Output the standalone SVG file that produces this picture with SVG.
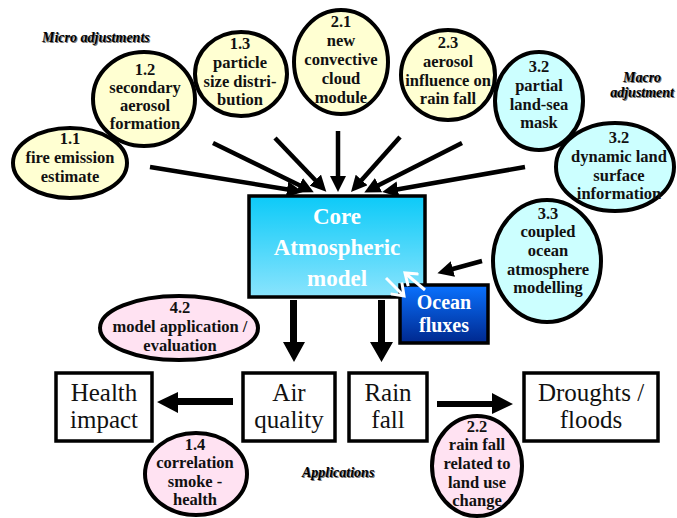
<svg xmlns="http://www.w3.org/2000/svg" width="677" height="518" viewBox="0 0 677 518">
<defs>
<linearGradient id="gCore" x1="0" y1="0" x2="0" y2="1">
<stop offset="0" stop-color="#0ccaf8"/>
<stop offset="1" stop-color="#8ae4fd"/>
</linearGradient>
<linearGradient id="gOcean" x1="0" y1="0" x2="0" y2="1">
<stop offset="0" stop-color="#0a72ff"/>
<stop offset="1" stop-color="#00288e"/>
</linearGradient>
<marker id="ah" markerUnits="userSpaceOnUse" markerWidth="18" markerHeight="16" refX="4" refY="8" orient="auto" viewBox="0 0 18 16">
<path d="M0,0 L16,8 L0,16 z" fill="#000"/>
</marker>
<marker id="wh" markerUnits="userSpaceOnUse" markerWidth="18" markerHeight="18" refX="14" refY="9" orient="auto" viewBox="0 0 18 18">
<path d="M3,1 L14,9 L3,17" fill="none" stroke="#fff" stroke-width="3"/>
</marker>
<style>
.yel{fill:#ffffd2;stroke:#000;stroke-width:4}
.cyn{fill:#ccffff;stroke:#000;stroke-width:4}
.pnk{fill:#ffe2f2;stroke:#000;stroke-width:4}
.et{font-family:"Liberation Serif",serif;font-weight:bold;font-size:16.5px;fill:#111;text-anchor:middle}
.box{fill:#fff;stroke:#000;stroke-width:3.5}
.bt{font-family:"Liberation Serif",serif;font-size:25px;fill:#111;text-anchor:middle}
.wt{font-family:"Liberation Serif",serif;font-weight:bold;fill:#fff;text-anchor:middle}
.lbl{font-family:"Liberation Serif",serif;font-weight:bold;font-style:italic;font-size:14px;fill:#000}
.shd{font-family:"Liberation Serif",serif;font-weight:bold;font-style:italic;font-size:14px;fill:#777}
.arr{stroke:#000;stroke-width:4.5;fill:none;marker-end:url(#ah)}
.warr{stroke:#fff;stroke-width:3;fill:none;marker-end:url(#wh)}
</style>
</defs>

<g id="labels">
<text class="shd" x="43" y="43">Micro adjustments</text>
<text class="lbl" x="42" y="42">Micro adjustments</text>
<text class="shd" x="624" y="83">Macro</text>
<text class="lbl" x="623" y="82">Macro</text>
<text class="shd" x="675" y="98" text-anchor="end">adjustment</text>
<text class="lbl" x="674" y="97" text-anchor="end">adjustment</text>
<text class="shd" x="303" y="478">Applications</text>
<text class="lbl" x="302" y="477">Applications</text>
</g>

<g id="n11"><ellipse class="yel" cx="70" cy="163" rx="57" ry="35"/>
<text class="et"><tspan x="70" y="144">1.1</tspan><tspan x="70" y="163">fire emission</tspan><tspan x="70" y="182">estimate</tspan></text></g>
<g id="n12"><ellipse class="yel" cx="144" cy="99" rx="51" ry="47"/>
<text class="et"><tspan x="145" y="75">1.2</tspan><tspan x="145" y="93">secondary</tspan><tspan x="145" y="111">aerosol</tspan><tspan x="145" y="129">formation</tspan></text></g>
<g id="n13"><ellipse class="yel" cx="241" cy="74" rx="46" ry="42"/>
<text class="et"><tspan x="240" y="49">1.3</tspan><tspan x="240" y="68">particle</tspan><tspan x="240" y="87">size distri-</tspan><tspan x="240" y="105">bution</tspan></text></g>
<g id="n21"><ellipse class="yel" cx="341" cy="62" rx="47" ry="52"/>
<text class="et"><tspan x="341" y="27">2.1</tspan><tspan x="341" y="46">new</tspan><tspan x="341" y="65">convective</tspan><tspan x="341" y="84">cloud</tspan><tspan x="341" y="103">module</tspan></text></g>
<g id="n23"><ellipse class="yel" cx="448" cy="75" rx="47" ry="45"/>
<text class="et"><tspan x="448" y="48">2.3</tspan><tspan x="448" y="67">aerosol</tspan><tspan x="448" y="86">influence on</tspan><tspan x="448" y="104">rain fall</tspan></text></g>
<g id="n32a"><ellipse class="cyn" cx="539" cy="101" rx="44" ry="49"/>
<text class="et"><tspan x="539" y="72">3.2</tspan><tspan x="539" y="91">partial</tspan><tspan x="539" y="110">land-sea</tspan><tspan x="539" y="128">mask</tspan></text></g>
<g id="n32b"><ellipse class="cyn" cx="615" cy="167" rx="59" ry="44"/>
<text class="et"><tspan x="619" y="143">3.2</tspan><tspan x="619" y="162">dynamic land</tspan><tspan x="619" y="181">surface</tspan><tspan x="619" y="199">information</tspan></text></g>
<g id="n33"><ellipse class="cyn" cx="547" cy="261" rx="54" ry="61"/>
<text class="et"><tspan x="548" y="219">3.3</tspan><tspan x="548" y="237">coupled</tspan><tspan x="548" y="256">ocean</tspan><tspan x="548" y="275">atmosphere</tspan><tspan x="548" y="293">modelling</tspan></text></g>
<g id="n42"><ellipse class="pnk" cx="179" cy="328" rx="79" ry="32"/>
<text class="et"><tspan x="180" y="313">4.2</tspan><tspan x="180" y="332">model application /</tspan><tspan x="180" y="351">evaluation</tspan></text></g>
<g id="n14"><ellipse class="pnk" cx="196" cy="474" rx="51" ry="41"/>
<text class="et"><tspan x="195" y="450">1.4</tspan><tspan x="195" y="468">correlation</tspan><tspan x="195" y="487">smoke -</tspan><tspan x="195" y="505">health</tspan></text></g>
<g id="n22"><ellipse class="pnk" cx="477" cy="466" rx="45" ry="50"/>
<text class="et"><tspan x="477" y="432">2.2</tspan><tspan x="477" y="450">rain fall</tspan><tspan x="477" y="469">related to</tspan><tspan x="477" y="488">land use</tspan><tspan x="477" y="506">change</tspan></text></g>

<g id="core"><rect x="249" y="196" width="176" height="101" fill="url(#gCore)" stroke="#000" stroke-width="3.5"/>
<text class="wt" font-size="23"><tspan x="337" y="224">Core</tspan><tspan x="337" y="255">Atmospheric</tspan><tspan x="337" y="286">model</tspan></text></g>
<g id="ocean"><rect x="400" y="285" width="88" height="58" fill="url(#gOcean)" stroke="#000" stroke-width="3.5"/>
<text class="wt" font-size="20"><tspan x="444" y="309">Ocean</tspan><tspan x="444" y="332">fluxes</tspan></text></g>

<g id="health"><rect class="box" x="56" y="373" width="96" height="68"/>
<text class="bt"><tspan x="104" y="401">Health</tspan><tspan x="104" y="428">impact</tspan></text></g>
<g id="air"><rect class="box" x="243" y="373" width="92" height="68"/>
<text class="bt"><tspan x="289" y="401">Air</tspan><tspan x="289" y="428">quality</tspan></text></g>
<g id="rain"><rect class="box" x="349" y="373" width="78" height="68"/>
<text class="bt"><tspan x="388" y="401">Rain</tspan><tspan x="388" y="428">fall</tspan></text></g>
<g id="droughts"><rect class="box" x="524" y="373" width="134" height="68"/>
<text class="bt"><tspan x="591" y="401">Droughts /</tspan><tspan x="591" y="428">floods</tspan></text></g>

<g id="connectors">
<line class="arr" x1="150" y1="167" x2="291" y2="190"/>
<line class="arr" x1="213" y1="143" x2="303" y2="187"/>
<line class="arr" x1="275" y1="138" x2="318" y2="183"/>
<line class="arr" x1="338" y1="131" x2="338" y2="180"/>
<line class="arr" x1="400" y1="137" x2="359" y2="183"/>
<line class="arr" x1="462" y1="143" x2="375" y2="187"/>
<line class="arr" x1="525" y1="167" x2="394" y2="190"/>
<line class="arr" x1="482" y1="261" x2="449" y2="270"/>
<line class="warr" x1="425" y1="290" x2="405" y2="273"/>
<line class="warr" x1="386" y1="278" x2="404" y2="296"/>
<polygon points="290,300 297,300 297,342 305,342 294,362 283,342 290,342"/>
<polygon points="378,300 385,300 385,342 393,342 381.5,362 370,342 378,342"/>
<polygon points="233,398 233,405 178,405 178,413 157,402 178,392 178,398"/>
<polygon points="437,401 492,401 492,393 513,404 492,414 492,407 437,407"/>
</g>
</svg>
